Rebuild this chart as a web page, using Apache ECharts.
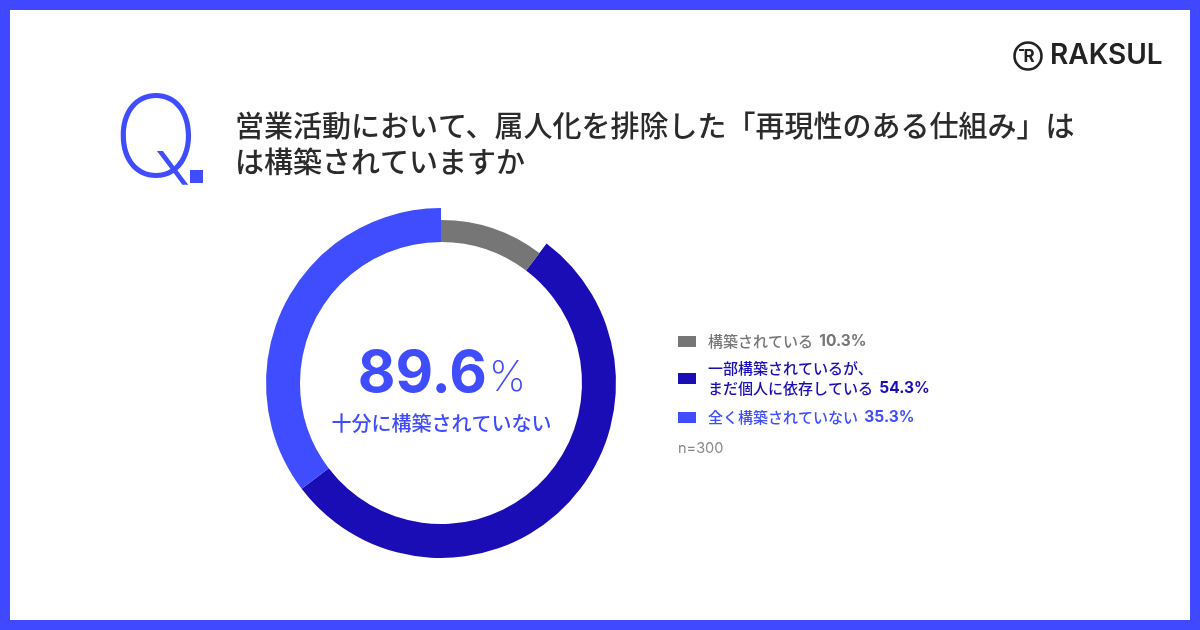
<!DOCTYPE html>
<html><head><meta charset="utf-8">
<script src="https://cdn.jsdelivr.net/npm/echarts@6/dist/echarts.min.js"></script>
<style>html,body{margin:0;padding:0;background:#fff}#c{width:1200px;height:630px}</style>
</head><body><div id="c"></div>
<script>
// ---- data ----
const categories = ['構築されている', '一部構築されているが、\nまだ個人に依存している', '全く構築されていない'];
const values = [10.3, 54.3, 35.3];
const titleLines = ['営業活動において、属人化を排除した「再現性のある仕組み」は', 'は構築されていますか'];
const centerValue = '89.6';
const centerLabel = '十分に構築されていない';
const sampleNote = 'n=300';
const brand = 'RAKSUL';

// ---- styles ----
const colors = ['#767676', '#1b0db6', '#3f4dff'];
const accent = '#3f4dff';
const CJK = '"Noto Sans CJK JP","Noto Sans",sans-serif';
const LAT = 'Inter,"Noto Sans CJK JP",sans-serif';

const chart = echarts.init(document.getElementById('c'), null, {renderer: 'canvas'});

// pie series: gray drawn thinner, blues drawn full width
const outerData = categories.map((n, i) => ({
  name: n, value: values[i],
  itemStyle: {color: i === 0 ? 'rgba(0,0,0,0)' : colors[i]}
}));
const innerData = categories.map((n, i) => ({
  name: n, value: values[i],
  itemStyle: {color: i === 0 ? colors[i] : 'rgba(0,0,0,0)'}
}));
const pieCommon = {
  type: 'pie', center: [441, 383], startAngle: 90, clockwise: true,
  silent: true, label: {show: false}, labelLine: {show: false},
  emphasis: {disabled: true}, animation: false, avoidLabelOverlap: false
};

// legend graphics built from arrays
const legendG = [];
const textColors = ['#767676', '#1b0db6', '#3f4dff'];
const rowTops = [341, 368, 417];
categories.forEach((name, i) => {
  const lines = name.split('\n');
  const top = rowTops[i];
  const midY = top + (lines.length - 1) * 10;
  legendG.push({type: 'rect', left: 678, top: midY - 5,
    shape: {width: 18, height: 11}, style: {fill: colors[i]}});
  let rich = lines.map((l, k) => k === lines.length - 1 ? `{n|${l}} {p|${values[i].toFixed(1)}%}` : `{n|${l}}`).join('\n');
  legendG.push({type: 'text', left: 708, top: top - 10,
    style: {text: rich, lineHeight: 20,
      rich: {
        n: {fontFamily: CJK, fontSize: 15, fill: textColors[i], lineHeight: 20, fontWeight: 500},
        p: {fontFamily: LAT, fontSize: 15.5, fill: textColors[i], fontWeight: 700, lineHeight: 20, padding: [0, 0, 0, 3]}
      }}});
});
legendG.push({type: 'text', left: 678, top: 441,
  style: {text: sampleNote, fontFamily: LAT, fontSize: 14.5, fill: '#888'}});

chart.setOption({
  backgroundColor: '#ffffff',
  animation: false,
  series: [
    Object.assign({}, pieCommon, {radius: [141, 175], data: outerData}),
    Object.assign({}, pieCommon, {radius: [141, 163], data: innerData})
  ],
  graphic: [
    // frame
    {type: 'rect', shape: {x: 5, y: 5, width: 1190, height: 620},
      style: {fill: 'none', stroke: '#4049ff', lineWidth: 10}, z: 10},
    // Q.
    {type: 'text', left: 113, top: 86,
      style: {text: 'Q', fontFamily: LAT, fontSize: 114, fontWeight: 200, fill: accent}},
    {type: 'rect', shape: {x: 190, y: 170, width: 13, height: 13}, style: {fill: accent}},
    // title
    {type: 'text', left: 235, top: 108,
      style: {text: titleLines.join('\n'), fontFamily: CJK, fontSize: 29, fontWeight: 500,
        fill: '#2b2b2b', lineHeight: 36}},
    // logo
    {type: 'circle', shape: {cx: 1028, cy: 56, r: 13.5},
      style: {fill: 'none', stroke: '#222', lineWidth: 2.6}},
    {type: 'text', x: 1029, y: 57,
      style: {text: 'R', fontFamily: LAT, fontSize: 17, fontWeight: 700, fill: '#222',
        align: 'center', verticalAlign: 'middle'}},
    {type: 'line', shape: {x1: 1019, y1: 50, x2: 1024, y2: 50}, style: {stroke: '#222', lineWidth: 2}},
    {type: 'text', left: 1050, top: 42,
      style: {text: brand, fontFamily: LAT, fontSize: 28, fontWeight: 600, fill: '#222'}},
    // center
    {type: 'text', x: 442, y: 375,
      style: {text: `{v|${centerValue}}{u|%}`, align: 'center', verticalAlign: 'middle',
        rich: {
          v: {fontFamily: LAT, fontSize: 58, fontWeight: 700, fill: accent},
          u: {fontFamily: LAT, fontSize: 42, fontWeight: 200, fill: accent, padding: [6, 0, 0, 2]}
        }}},
    {type: 'text', x: 441.5, y: 423,
      style: {text: centerLabel, align: 'center', verticalAlign: 'middle',
        fontFamily: CJK, fontSize: 20, fontWeight: 500, fill: accent}}
  ].concat(legendG)
});
</script></body></html>
